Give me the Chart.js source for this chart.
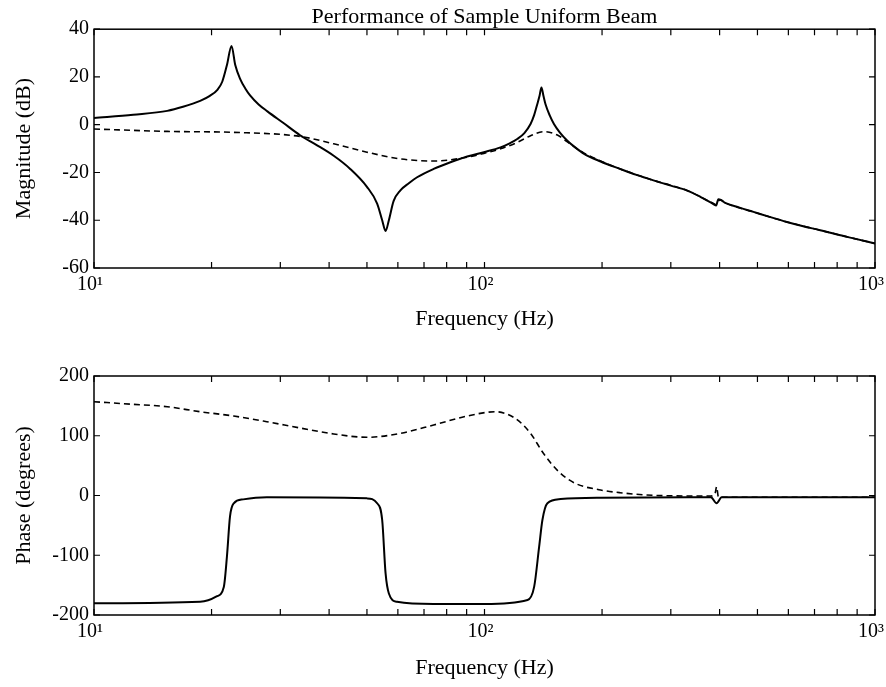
<!DOCTYPE html>
<html>
<head>
<meta charset="utf-8">
<script src="https://cdn.jsdelivr.net/npm/chart.js@4.4.1/dist/chart.umd.min.js"></script>
<style>
  html, body { margin: 0; padding: 0; background: #fff; }
  #wrap { position: relative; width: 886px; height: 687px; }
  .box { position: absolute; left: 0; width: 886px; }
  #top { top: 0; height: 340px; }
  #bottom { top: 340px; height: 347px; }
</style>
</head>
<body>
<div id="wrap">
  <div class="box" id="top"><canvas id="mag" width="886" height="340"></canvas></div>
  <div class="box" id="bottom"><canvas id="phase" width="886" height="347"></canvas></div>
</div>
<script>
const FONT = '"Liberation Serif", "Times New Roman", serif';

// x axis (Hz, log)
const DECADES = [10, 100, 1000];
const DECADE_LABELS = ['10\u00b9', '10\u00b2', '10\u00b3'];
const MINOR_FREQS = [20, 30, 40, 50, 60, 70, 80, 90, 200, 300, 400, 500, 600, 700, 800, 900];

// magnitude, solid
const MAG_SOLID_FREQ = [10, 12.6, 15.4, 16.9, 18.7, 19.8, 20.7, 21.3, 21.9, 22.5, 23.0, 23.7, 24.4, 25.1, 26.4, 27.8, 30.5, 33.7, 37, 41.1, 45.3, 50, 53.1, 54.7, 55.8, 56.9, 58.5, 60.9, 64, 67.2, 74.1, 81.8, 90.3, 99.6, 109.9, 116, 121.3, 126.5, 131.2, 134, 136.5, 138.3, 139.9, 141.6, 143.3, 146.8, 150.6, 156, 163, 171, 179.9, 198.3, 222.4, 245, 270.8, 300, 329.7, 358, 385.6, 392, 397, 403, 412, 450, 488.5, 540, 594.5, 655, 724, 800, 881, 1000];
const MAG_SOLID_DB = [2.8, 4.2, 5.8, 7.5, 10, 12.1, 14.6, 18, 25, 33, 25, 19, 15.2, 12.3, 8.5, 5.6, 0.8, -4.4, -8.3, -13.0, -18.5, -26, -33, -40, -44.5, -40, -32, -27.5, -24.5, -22, -18.5, -15.7, -13.3, -11.5, -9.5, -7.8, -6, -3.5, 0.3, 4, 8.6, 12, 15.6, 12, 8.6, 4, 0.3, -3.3, -6.7, -9.6, -12.2, -15.4, -18.5, -21, -23.3, -25.5, -27.5, -30.3, -33.2, -33.8, -31.2, -31.5, -32.6, -34.7, -36.5, -38.7, -40.7, -42.5, -44.2, -46, -47.6, -49.7];

// magnitude, dashed
const MAG_DASH_FREQ = [10, 15.4, 22.8, 33.7, 41.1, 50, 60.9, 74.1, 90.3, 99.6, 109.9, 121.3, 131.2, 141.5, 154.9, 163, 179.9, 198.3, 222.4, 270.8, 329.7, 385.6, 392, 397, 403, 412, 488.5, 594.5, 724, 881, 1000];
const MAG_DASH_DB = [-1.8, -2.8, -3.2, -4.9, -8, -11.5, -14.3, -15.2, -13.6, -12, -10.1, -7.4, -4.6, -2.9, -4.6, -7.2, -11.9, -15.2, -18.5, -23.3, -27.5, -33, -33.5, -31.8, -31.6, -32.6, -36.5, -40.7, -44.2, -47.6, -49.7];

// phase, solid
const PHASE_SOLID_FREQ = [10, 18.7, 20.6, 21.5, 21.9, 22.3, 22.8, 24.1, 27.7, 50, 53.1, 54.7, 55.8, 56.9, 59.7, 74.1, 100, 128.9, 134, 138, 140.7, 144.9, 156.7, 198.3, 380, 393, 405, 1000];
const PHASE_SOLID_DEG = [-180.5, -178, -169, -153, -102, -35, -13, -6.5, -3, -4.8, -13, -41, -130, -164, -178, -181.7, -181.7, -175, -153, -86, -41, -13, -6, -3.7, -3, -13, -3, -3];

// phase, dashed
const PHASE_DASH_FREQ = [10, 12.6, 15.4, 18.7, 22.8, 27.7, 33.7, 41.1, 50, 60.9, 74.1, 90.3, 106.5, 119.8, 131.2, 141.5, 154.9, 170.7, 198.3, 222.4, 270.8, 380, 390, 393, 397, 405, 1000];
const PHASE_DASH_DEG = [157, 152.6, 148.6, 140.2, 133, 123.5, 113, 103, 97.4, 104, 118, 133, 140.2, 129.2, 104, 70.6, 39.8, 20.4, 9.2, 4.7, 0.3, -0.9, 5, 14.7, -2, -3, -3];

const zip = (xs, ys) => xs.map((x, i) => ({ x: x, y: ys[i] }));

// box around the plot with inward ticks on all four sides
const framePlugin = {
  id: 'frame',
  afterDraw(chart) {
    const { ctx, chartArea: a, scales: { x, y } } = chart;
    const len = 6;
    ctx.save();
    ctx.strokeStyle = '#000';
    ctx.lineWidth = 1.5;
    ctx.strokeRect(a.left, a.top, a.right - a.left, a.bottom - a.top);
    ctx.lineWidth = 1.2;
    ctx.beginPath();
    DECADES.concat(MINOR_FREQS).forEach(f => {
      const px = x.getPixelForValue(f);
      ctx.moveTo(px, a.top); ctx.lineTo(px, a.top + len);
      ctx.moveTo(px, a.bottom); ctx.lineTo(px, a.bottom - len);
    });
    y.ticks.forEach(t => {
      const py = y.getPixelForValue(t.value);
      ctx.moveTo(a.left, py); ctx.lineTo(a.left + len, py);
      ctx.moveTo(a.right, py); ctx.lineTo(a.right - len, py);
    });
    ctx.stroke();
    ctx.restore();
  }
};

function makeChart(id, solid, dashed, yRange, yTitle, extra) {
  return new Chart(document.getElementById(id), {
    type: 'line',
    data: {
      datasets: [
        {
          data: solid,
          borderColor: '#000',
          borderWidth: 2,
          pointRadius: 0,
          cubicInterpolationMode: 'monotone',
        },
        {
          data: dashed,
          borderColor: '#000',
          borderWidth: 1.6,
          borderDash: [6, 4],
          pointRadius: 0,
          cubicInterpolationMode: 'monotone',
        },
      ],
    },
    options: {
      responsive: false,
      animation: false,
      layout: { padding: { left: 0, right: 11, top: extra.padTop, bottom: 0 } },
      plugins: {
        legend: { display: false },
        tooltip: { enabled: false },
        title: extra.title ? {
          display: true,
          text: extra.title,
          fullSize: false,
          color: '#000',
          font: { family: FONT, size: 22, weight: 'normal', lineHeight: 1.1 },
          padding: { top: 5, bottom: 0 },
        } : { display: false },
      },
      scales: {
        x: {
          type: 'logarithmic',
          min: 10,
          max: 1000,
          grid: { display: false, drawTicks: false },
          border: { display: false },
          afterBuildTicks: (scale) => { scale.ticks = DECADES.map(v => ({ value: v })); },
          afterFit: (scale) => { scale.height = 72; scale.paddingLeft = 0; scale.paddingRight = 0; },
          ticks: {
            color: '#000',
            font: { family: FONT, size: 20 },
            padding: 5,
            labelOffset: -4,
            maxRotation: 0,
            autoSkip: false,
            callback: (v, i) => DECADE_LABELS[i],
          },
          title: {
            display: true,
            text: 'Frequency (Hz)',
            color: '#000',
            font: { family: FONT, size: 22, lineHeight: 1.2 },
            padding: { top: 0, bottom: extra.xTitlePad },
          },
        },
        y: {
          min: yRange[0],
          max: yRange[1],
          grid: { display: false, drawTicks: false },
          border: { display: false },
          afterFit: (scale) => { scale.width = 94; scale.paddingTop = 0; scale.paddingBottom = 0; },
          ticks: {
            color: '#000',
            stepSize: yRange[2],
            font: { family: FONT, size: 20 },
            padding: 5,
          },
          title: {
            display: true,
            text: yTitle,
            color: '#000',
            font: { family: FONT, size: 22, lineHeight: 1.2 },
            padding: { top: 11, bottom: 0 },
          },
        },
      },
    },
    plugins: [framePlugin],
  });
}

makeChart('mag',
  zip(MAG_SOLID_FREQ, MAG_SOLID_DB),
  zip(MAG_DASH_FREQ, MAG_DASH_DB),
  [-60, 40, 20], 'Magnitude (dB)',
  { title: 'Performance of Sample Uniform Beam', padTop: 0, xTitlePad: 8 });

makeChart('phase',
  zip(PHASE_SOLID_FREQ, PHASE_SOLID_DEG),
  zip(PHASE_DASH_FREQ, PHASE_DASH_DEG),
  [-200, 200, 100], 'Phase (degrees)',
  { title: null, padTop: 36, xTitlePad: 6 });
</script>
</body>
</html>
